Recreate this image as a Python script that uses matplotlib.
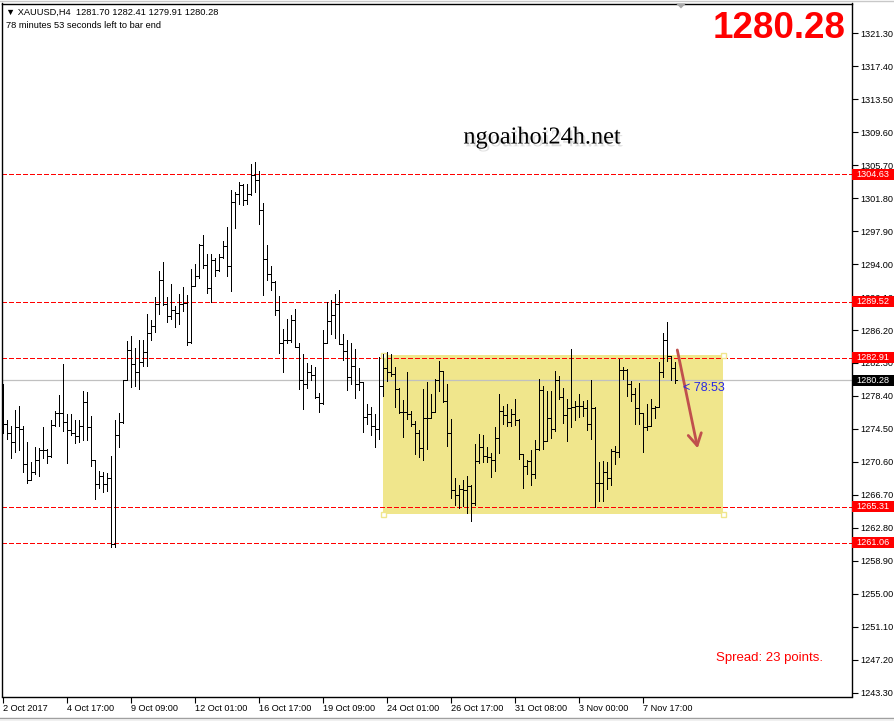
import matplotlib
matplotlib.use("Agg")
import matplotlib.pyplot as plt
from matplotlib.collections import LineCollection
from matplotlib.patches import Rectangle, Polygon
from matplotlib.transforms import Affine2D, blended_transform_factory
import matplotlib.patheffects as pe

# ---------------- data (XAUUSD H4) ----------------
opens = [1277.50,
1275.03,1274.00,1272.90,1274.71,1274.47,1270.37,1268.48,1269.39,1270.85,1271.95,
1271.95,1271.24,1274.91,1276.37,1276.37,1275.30,1274.32,1274.00,1273.61,1274.87,
1277.63,1274.71,1270.77,1268.01,1268.99,1268.01,1268.72,1260.83,1273.84,1275.30,
1280.23,1283.86,1282.20,1281.22,1282.40,1283.59,1285.84,1286.63,1289.31,1292.15,
1289.31,1287.81,1288.60,1288.20,1289.31,1289.39,1284.81,1291.36,1292.54,1296.21,
1293.84,1291.20,1294.51,1293.33,1294.83,1296.09,1293.72,1301.34,1302.33,1303.31,
1301.61,1302.33,1304.50,1303.90,1300.43,1294.63,1292.78,1291.87,1288.60,1284.65,
1285.05,1284.97,1287.41,1284.18,1280.23,1279.84,1281.22,1280.83,1278.26,1277.55,
1284.65,1287.26,1287.93,1289.31,1284.50,1283.71,1280.63,1281.89,1279.84,1280.03,
1275.89,1276.29,1274.79,1274.51,1279.58,1281.73,1281.22,1280.94,1279.25,1276.45,
1276.45,1276.29,1275.03,1274.04,1272.19,1275.81,1275.81,1276.45,1280.23,1281.30,
1277.75,1274.04,1267.29,1266.74,1267.41,1267.29,1267.69,1265.79,1270.73,1272.34,
1271.24,1271.16,1270.84,1273.45,1276.60,1276.09,1275.30,1276.29,1275.58,1271.48,
1270.09,1270.69,1269.19,1272.11,1279.05,1273.13,1275.81,1274.51,1280.23,1278.26,
1276.09,1277.00,1277.08,1277.16,1277.24,1277.00,1275.10,1277.00,1268.16,1268.08,
1269.42,1268.71,1271.87,1271.75,1281.49,1281.49,1279.76,1278.65,1276.92,1276.37,
1274.71,1274.79,1276.92,1277.08,1281.22,1284.97,1283.07,1281.70]

highs = [1279.84,1275.58,1274.79,1276.69,1277.16,1274.87,1272.90,1270.53,1272.35,1272.27,
1274.71,1272.15,1275.50,1276.57,1278.46,1282.13,1276.21,1276.21,1275.58,1275.58,
1278.97,1278.81,1275.97,1270.85,1269.58,1269.39,1269.27,1271.24,1275.58,1276.37,
1280.31,1284.89,1285.44,1284.02,1285.05,1285.05,1288.05,1287.34,1290.10,1293.17,
1294.20,1290.10,1291.60,1288.99,1290.41,1291.28,1290.29,1293.45,1294.04,1296.41,
1297.39,1295.15,1295.15,1294.75,1295.22,1296.72,1298.38,1302.72,1302.52,1303.71,
1303.51,1303.51,1305.80,1306.07,1305.01,1301.22,1296.21,1293.72,1291.99,1290.18,
1286.35,1287.53,1287.93,1288.72,1284.65,1283.39,1282.29,1282.01,1281.81,1278.73,
1286.15,1289.51,1289.70,1290.41,1290.96,1285.76,1285.05,1284.65,1283.98,1281.73,
1278.06,1277.47,1277.08,1276.29,1283.00,1283.31,1283.59,1283.31,1281.81,1279.37,
1277.87,1281.22,1276.60,1275.42,1274.32,1279.25,1280.04,1278.58,1280.43,1282.52,
1281.34,1279.84,1275.70,1268.71,1267.92,1268.48,1268.99,1267.81,1272.74,1273.92,
1273.84,1272.42,1271.71,1274.71,1278.65,1277.27,1277.39,1276.88,1278.02,1275.70,
1271.48,1270.77,1272.03,1273.21,1280.39,1279.52,1278.97,1278.97,1281.34,1280.71,
1279.37,1278.06,1283.98,1277.79,1278.65,1277.79,1277.87,1280.31,1277.08,1270.57,
1270.69,1270.57,1272.15,1272.50,1282.80,1281.81,1281.61,1280.16,1279.37,1279.92,
1276.29,1277.39,1278.06,1277.16,1282.40,1285.84,1287.10,1283.07,1282.41]

lows = [1274.00,1273.29,1271.08,1271.75,1272.03,1269.39,1268.09,1268.40,1269.11,1268.99,
1271.08,1270.45,1271.16,1274.79,1274.79,1274.20,1270.45,1273.84,1272.82,1272.94,
1273.21,1273.21,1270.14,1266.19,1267.53,1267.02,1267.14,1260.51,1260.59,1272.42,
1275.18,1280.23,1279.44,1279.52,1279.21,1281.89,1281.89,1285.05,1285.92,1288.05,
1289.11,1287.10,1287.53,1286.55,1286.94,1288.44,1284.38,1284.65,1291.36,1292.38,
1293.57,1290.57,1289.51,1292.54,1293.17,1294.75,1292.54,1290.81,1298.30,1301.06,
1300.95,1301.06,1302.13,1302.52,1298.70,1290.29,1292.15,1290.96,1287.93,1283.47,
1281.22,1284.65,1284.77,1284.18,1279.25,1276.88,1279.37,1280.23,1278.18,1276.49,
1277.39,1285.56,1285.68,1285.29,1284.50,1282.68,1279.13,1279.76,1278.18,1279.05,
1274.12,1275.03,1273.84,1272.42,1273.25,1278.34,1280.16,1280.71,1277.08,1276.37,
1273.53,1275.70,1274.79,1271.48,1271.16,1270.84,1272.15,1275.97,1277.47,1278.97,
1277.67,1272.50,1266.35,1265.56,1265.16,1265.44,1264.53,1263.66,1265.56,1270.45,
1270.57,1270.57,1268.79,1269.50,1271.63,1275.03,1274.79,1274.79,1274.91,1270.96,
1267.53,1269.19,1267.81,1268.71,1272.03,1272.15,1273.33,1273.45,1274.24,1278.06,
1275.18,1273.13,1274.71,1275.50,1275.89,1276.05,1274.39,1273.33,1265.24,1266.03,
1266.03,1267.41,1267.92,1270.40,1271.16,1280.43,1278.34,1277.79,1275.10,1275.10,
1271.75,1274.32,1275.89,1275.81,1277.47,1280.63,1282.52,1280.23,1279.91]

closes = [1275.03,1274.00,1272.90,1274.71,1274.47,1270.37,1268.48,1269.39,1270.85,1271.95,
1271.95,1271.24,1274.91,1276.37,1276.37,1275.30,1274.32,1274.00,1273.61,1274.87,
1277.63,1274.71,1270.77,1268.01,1268.99,1268.01,1268.72,1260.83,1273.84,1275.30,
1280.23,1283.86,1282.20,1281.22,1282.40,1283.59,1285.84,1286.63,1289.31,1292.15,
1289.31,1287.81,1288.60,1288.20,1289.31,1289.39,1284.81,1291.36,1292.54,1296.21,
1293.84,1291.20,1294.51,1293.33,1294.83,1296.09,1293.72,1301.34,1302.33,1303.31,
1301.61,1302.33,1304.50,1303.90,1300.43,1294.63,1292.78,1291.87,1288.60,1284.65,
1285.05,1284.97,1287.41,1284.18,1280.23,1279.84,1281.22,1280.83,1278.26,1277.55,
1284.65,1287.26,1287.93,1289.31,1284.50,1283.71,1280.63,1281.89,1279.84,1280.03,
1275.89,1276.29,1274.79,1274.51,1279.58,1281.73,1281.22,1280.94,1279.25,1276.45,
1276.45,1276.29,1275.03,1274.04,1272.19,1275.81,1275.81,1276.45,1280.23,1281.30,
1277.75,1274.04,1267.29,1266.74,1267.41,1267.29,1267.69,1265.79,1270.73,1272.34,
1271.24,1271.16,1270.84,1273.45,1276.60,1276.09,1275.30,1276.29,1275.58,1271.48,
1270.09,1270.69,1269.19,1272.11,1279.05,1273.13,1275.81,1274.51,1280.23,1278.26,
1276.09,1277.00,1277.08,1277.16,1277.24,1277.00,1275.10,1277.00,1268.16,1268.08,
1269.42,1268.71,1271.87,1271.75,1281.49,1281.49,1279.76,1278.65,1276.92,1276.37,
1274.71,1274.79,1276.92,1277.08,1281.22,1284.97,1283.07,1281.70,1280.28]

level_lines = [1304.63, 1289.52, 1282.91, 1265.31, 1261.06]
bid_price = 1280.28

y_ticks = [1321.30, 1317.40, 1313.50, 1309.60, 1305.70, 1301.80, 1297.90, 1294.00,
           1290.10, 1286.20, 1282.30, 1278.40, 1274.50, 1270.60, 1266.70, 1262.80,
           1258.90, 1255.00, 1251.10, 1247.20, 1243.30]
x_tick_pos = [0, 16, 32, 48, 64, 80, 96, 112, 128, 144, 160]
x_tick_labels = ["2 Oct 2017", "4 Oct 17:00", "9 Oct 09:00", "12 Oct 01:00",
                 "16 Oct 17:00", "19 Oct 09:00", "24 Oct 01:00", "26 Oct 17:00",
                 "31 Oct 08:00", "3 Nov 00:00", "7 Nov 17:00"]

zone_x = (94.95, 179.95)        # bar indices of the yellow box
zone_y = (1264.40, 1283.25)     # price range of the yellow box
arrow_from = (168.45, 1283.84)
arrow_to = (173.55, 1272.21)

# ---------------- figure ----------------
W, H = 895, 721
fig = plt.figure(figsize=(W / 100, H / 100), dpi=100)
fig.patch.set_facecolor("white")
px = Affine2D().scale(1 / W, -1 / H).translate(0, 1) + fig.transFigure

L_px, R_px, T_px, B_px = 2.5, 852.5, 3.5, 696.5
ax = fig.add_axes([L_px / W, 1 - B_px / H, (R_px - L_px) / W, (B_px - T_px) / H])
ax.set_facecolor("white")
ax.set_xlim(-0.25, 212.25)
ax.set_ylim(1242.85, 1324.82)

FONT = ["Liberation Sans", "DejaVu Sans"]

# bars
segs = []
for i, (o, h, l, c) in enumerate(zip(opens, highs, lows, closes)):
    segs.append([(i, min(l, o, c)), (i, max(h, o, c))])
    segs.append([(i - 0.5, o), (i, o)])
    segs.append([(i, c), (i + 0.5, c)])
lc = LineCollection(segs, colors="black", linewidths=0.72, antialiaseds=False, zorder=4)
ax.add_collection(lc)

# yellow zone
ax.add_patch(Rectangle((zone_x[0], zone_y[0]), zone_x[1] - zone_x[0], zone_y[1] - zone_y[0],
                       facecolor="#F0E68C", edgecolor="none", zorder=1))
for hx in zone_x:
    for hy in zone_y:
        ax.plot([hx], [hy], marker="s", markersize=3.6, mfc="white", mec="#F0E68C",
                mew=1, zorder=3, clip_on=False)

# level lines
for lv in level_lines:
    ax.axhline(lv, color="#FF0000", lw=0.75, ls=(0, (4, 2.7)), zorder=2, antialiased=False)
ax.axhline(bid_price, color="#C0C0C0", lw=0.9, zorder=2)

# arrow
ax.annotate("", xy=arrow_to, xytext=arrow_from,
            arrowprops=dict(arrowstyle="->,head_length=0.7,head_width=0.4",
                            color="#C0504D", lw=2.0, mutation_scale=12,
                            shrinkA=0, shrinkB=0), zorder=5)
ax.text(169.9, 1279.3, "< 78:53", color="#2828E6", fontsize=9, family=FONT,
        ha="left", va="center", zorder=5)

# axes styling
for s in ax.spines.values():
    s.set_color("black")
    s.set_linewidth(1.0)
ax.yaxis.tick_right()
ax.set_yticks(y_ticks)
ax.set_yticklabels([f"{v:.2f}" for v in y_ticks])
ax.set_xticks(x_tick_pos)
ax.set_xticklabels(x_tick_labels)
ax.tick_params(axis="both", direction="out", length=4, width=0.8, colors="black",
               labelsize=6.6, pad=1.5)
for t in ax.get_xticklabels():
    t.set_ha("left")
    t.set_family(FONT)
for t in ax.get_yticklabels():
    t.set_family(FONT)

# price labels on the right axis
tr = blended_transform_factory(ax.transAxes, ax.transData)
box_w = 42.0 / (R_px - L_px)
box_h = 11.0 / 8.454
for lv, fc in [(l, "#FF0000") for l in level_lines] + [(bid_price, "black")]:
    ax.add_patch(Rectangle((1.0, lv - box_h / 2), box_w, box_h, transform=tr,
                           facecolor=fc, edgecolor="none", clip_on=False, zorder=10))
    ax.text(1.0 + 4.0 / (R_px - L_px), lv, f"{lv:.2f}", transform=tr, color="white",
            fontsize=6.6, family=FONT, ha="left", va="center", clip_on=False, zorder=11)

# texts
fig.text(6 / W, 1 - 12.5 / H, "\u25bc XAUUSD,H4  1281.70 1282.41 1279.91 1280.28",
         fontsize=6.7, family=FONT, ha="left", va="center")
fig.text(6 / W, 1 - 25 / H, "78 minutes 53 seconds left to bar end",
         fontsize=6.7, family=FONT, ha="left", va="center")
fig.text(846 / W, 1 - 28 / H, "1280.28", fontsize=26.5, fontweight="bold", color="#FF0000",
         family=FONT, ha="right", va="center")
fig.text(542 / W, 1 - 138 / H, "ngoaihoi24h.net", fontsize=17.5,
         family=["Liberation Serif", "DejaVu Serif"], ha="center", va="center",
         path_effects=[pe.withSimplePatchShadow(offset=(1.5, -2), shadow_rgbFace="gray",
                                                alpha=0.25)])
fig.text(716 / W, 1 - 658 / H, "Spread: 23 points.", fontsize=9.5, color="#FF0000",
         family=FONT, ha="left", va="center")

# window chrome details
fig.add_artist(Polygon([(676, 3.5), (686, 3.5), (681, 8.5)], closed=True,
                       facecolor="#A8A8A8", edgecolor="none", transform=px))
fig.add_artist(plt.Line2D([0, W], [0.5, 0.5], color="#C8C8C8", lw=1, transform=px))
fig.add_artist(Rectangle((0, 717), W, 4, facecolor="#F0F0F0", edgecolor="none", transform=px))
fig.add_artist(plt.Line2D([0, W], [717.5, 717.5], color="#A0A0A0", lw=0.8, transform=px))

fig.savefig("out.png", dpi=100, facecolor="white")
